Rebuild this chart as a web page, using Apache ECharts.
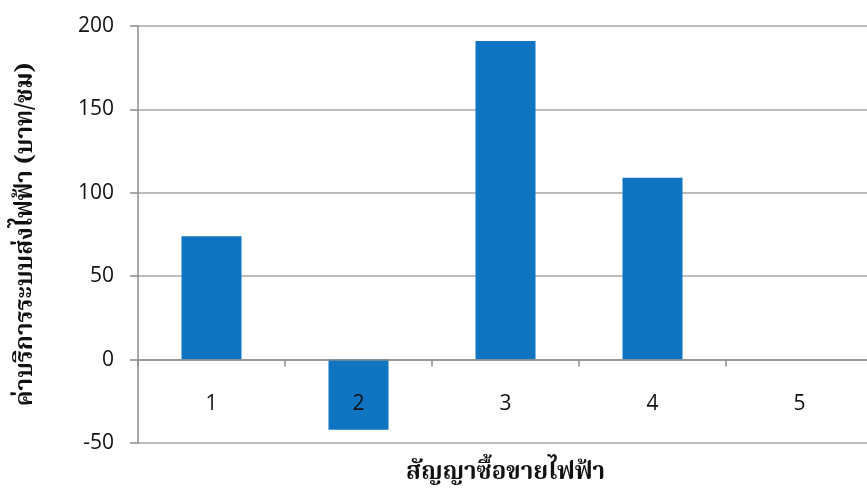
<!DOCTYPE html>
<html>
<head>
<meta charset="utf-8">
<script src="https://cdn.jsdelivr.net/npm/echarts@6/dist/echarts.min.js"></script>
<style>
  html, body { margin: 0; padding: 0; background: #ffffff; }
  #chart { width: 867px; height: 490px; }
</style>
</head>
<body>
<div id="chart"></div>
<script>
// Transmission service charge per power purchase contract
const categories = ['1', '2', '3', '4', '5'];
const serviceCharge = [74, -42, 191, 109, 0];
const yTicks = { min: -50, max: 200, interval: 50 };
const xTitle = 'สัญญาซื้อขายไฟฟ้า';
const yTitle = 'ค่าบริการระบบส่งไฟฟ้า (บาท/ชม)';

const thaiFont = '"Noto Serif Thai", "Noto Sans Thai", "Norasi", "Garuda", "Loma", "Noto Sans", sans-serif';
const numFont = '"Open Sans", "Noto Sans", sans-serif';
const axisGray = '#8c8c8c';
const gridGray = '#a6a6a6';

const chart = echarts.init(document.getElementById('chart'), null, { renderer: 'canvas' });
chart.setOption({
  animation: false,
  backgroundColor: '#ffffff',
  grid: { left: 138, right: -6, top: 26, bottom: 47, containLabel: false, outerBoundsMode: 'none' },
  xAxis: {
    type: 'category',
    data: categories,
    z: 5,
    axisLine: { onZero: true, lineStyle: { color: axisGray, width: 1.5 } },
    axisTick: { show: true, length: 7, lineStyle: { color: axisGray, width: 1.5 } },
    // category labels sit just under the zero line, drawn above the bars
    axisLabel: { margin: -49, color: '#111', fontFamily: numFont, fontSize: 21 },
    name: xTitle,
    nameLocation: 'middle',
    nameGap: 20,
    nameTextStyle: { fontFamily: thaiFont, fontWeight: 'bold', fontSize: 24, color: '#111' }
  },
  yAxis: {
    type: 'value',
    min: yTicks.min,
    max: yTicks.max,
    interval: yTicks.interval,
    axisLine: { show: true, lineStyle: { color: axisGray, width: 1.5 } },
    axisTick: { show: true, length: 8, lineStyle: { color: axisGray, width: 1.5 } },
    axisLabel: { margin: 24, color: '#111', fontFamily: numFont, fontSize: 21 },
    splitLine: { show: true, lineStyle: { color: gridGray, width: 1.5 } },
    name: yTitle,
    nameLocation: 'middle',
    nameGap: 98,
    nameRotate: 90,
    nameTextStyle: { fontFamily: thaiFont, fontWeight: 'bold', fontSize: 24, color: '#111' }
  },
  series: [{
    type: 'bar',
    data: serviceCharge,
    barWidth: 60,
    itemStyle: { color: '#0f75c3' }
  }]
});
</script>
</body>
</html>
